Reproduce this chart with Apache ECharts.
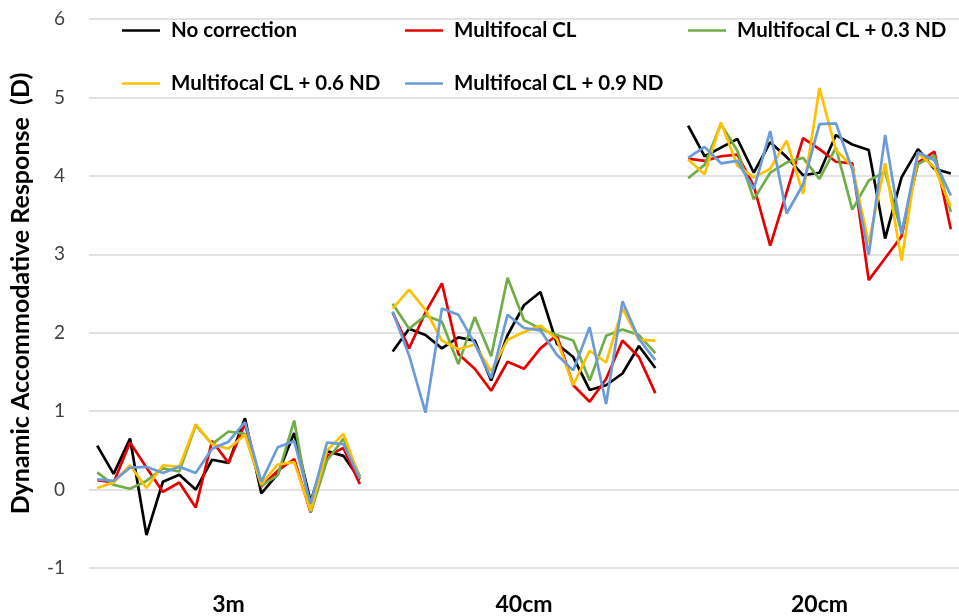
<!DOCTYPE html>
<html>
<head>
<meta charset="utf-8">
<script src="https://cdn.jsdelivr.net/npm/echarts@6/dist/echarts.min.js"></script>
<style>html,body{margin:0;padding:0;background:#fff}#c{width:959px;height:616px}</style>
</head>
<body>
<div id="c"></div>
<script>
// ---- data ----
const groupLabels = ['3m', '40cm', '20cm'];
const seriesNames = ['No correction', 'Multifocal CL', 'Multifocal CL + 0.3 ND', 'Multifocal CL + 0.6 ND', 'Multifocal CL + 0.9 ND'];

const noCorrection3m  = [0.56, 0.20, 0.65, -0.58, 0.10, 0.19, 0.00, 0.38, 0.34, 0.91, -0.05, 0.20, 0.72, -0.15, 0.49, 0.43, 0.13];
const noCorrection40  = [1.76, 2.05, 1.97, 1.80, 1.94, 1.90, 1.39, 1.97, 2.35, 2.52, 1.86, 1.69, 1.27, 1.33, 1.48, 1.83, 1.55];
const noCorrection20  = [4.64, 4.25, 4.36, 4.47, 4.04, 4.43, 4.24, 4.01, 4.04, 4.52, 4.40, 4.33, 3.20, 3.98, 4.34, 4.09, 4.03];

const multifocal3m    = [0.12, 0.09, 0.60, 0.28, -0.03, 0.09, -0.23, 0.62, 0.34, 0.84, 0.04, 0.24, 0.39, -0.29, 0.43, 0.53, 0.07];
const multifocal40    = [2.26, 1.80, 2.26, 2.63, 1.73, 1.54, 1.26, 1.63, 1.54, 1.80, 1.97, 1.33, 1.12, 1.41, 1.90, 1.69, 1.23];
const multifocal20    = [4.22, 4.19, 4.25, 4.27, 3.87, 3.11, 3.79, 4.48, 4.34, 4.18, 4.16, 2.67, 2.95, 3.23, 4.17, 4.31, 3.32];

const nd03_3m         = [0.22, 0.06, 0.01, 0.11, 0.27, 0.23, 0.82, 0.58, 0.74, 0.71, 0.05, 0.18, 0.88, -0.29, 0.37, 0.65, 0.17];
const nd03_40         = [2.37, 2.05, 2.22, 2.14, 1.60, 2.20, 1.70, 2.70, 2.16, 2.05, 1.97, 1.90, 1.39, 1.96, 2.04, 1.97, 1.74];
const nd03_20         = [3.97, 4.14, 4.66, 4.32, 3.70, 4.04, 4.17, 4.23, 3.96, 4.36, 3.57, 3.94, 4.05, 3.28, 4.15, 4.26, 3.54];

const nd06_3m         = [0.02, 0.09, 0.31, 0.02, 0.31, 0.29, 0.83, 0.58, 0.52, 0.70, 0.07, 0.32, 0.35, -0.27, 0.50, 0.71, 0.14];
const nd06_40         = [2.31, 2.55, 2.29, 1.90, 1.79, 1.85, 1.51, 1.91, 2.01, 2.09, 1.92, 1.33, 1.77, 1.62, 2.31, 1.91, 1.90];
const nd06_20         = [4.21, 4.02, 4.68, 4.13, 3.98, 4.09, 4.45, 3.77, 5.12, 4.33, 4.12, 3.14, 4.16, 2.92, 4.29, 4.11, 3.61];

const nd09_3m         = [0.13, 0.11, 0.28, 0.29, 0.21, 0.29, 0.21, 0.52, 0.61, 0.86, 0.10, 0.54, 0.62, -0.18, 0.60, 0.58, 0.14];
const nd09_40         = [2.27, 1.71, 0.98, 2.31, 2.23, 1.86, 1.42, 2.23, 2.06, 2.03, 1.72, 1.52, 2.07, 1.09, 2.40, 1.92, 1.65];
const nd09_20         = [4.23, 4.37, 4.16, 4.19, 3.83, 4.57, 3.52, 3.89, 4.66, 4.67, 4.08, 2.99, 4.52, 3.26, 4.30, 4.20, 3.75];

const yTicks = { min: -1, max: 6, interval: 1 };

// ---- build ----
const groups = [
  [noCorrection3m, noCorrection40, noCorrection20],
  [multifocal3m, multifocal40, multifocal20],
  [nd03_3m, nd03_40, nd03_20],
  [nd06_3m, nd06_40, nd06_20],
  [nd09_3m, nd09_40, nd09_20]
];
const perGroup = noCorrection3m.length;
const categories = [];
const labelAt = {};
groupLabels.forEach((g, gi) => {
  for (let i = 0; i < perGroup; i++) {
    const idx = categories.length;
    categories.push(g + '_' + i);
    if (i === Math.floor(perGroup / 2)) labelAt[idx] = g;
  }
  if (gi < groupLabels.length - 1) { labelAt[categories.length] = ''; categories.push('gap' + gi); }
});
function joinGroups(arrs) {
  const out = [];
  arrs.forEach((a, i) => { out.push(...a); if (i < arrs.length - 1) out.push(null); });
  return out;
}
const colors = ['#000000', '#e60000', '#70ad47', '#ffc000', '#6b9bd8'];
const FONT = 'Lato';

const legendPos = [
  { left: 122, top: 20 }, { left: 405, top: 20 }, { left: 688, top: 20 },
  { left: 122, top: 73 }, { left: 405, top: 73 }
];

const chart = echarts.init(document.getElementById('c'), null, { renderer: 'canvas' });
chart.setOption({
  animation: false,
  backgroundColor: '#ffffff',
  color: colors,
  legend: seriesNames.map((n, i) => ({
    data: [n], left: legendPos[i].left, top: legendPos[i].top,
    icon: 'rect', itemWidth: 38, itemHeight: 2.5, padding: 0,
    textStyle: { fontFamily: FONT, fontWeight: 'bold', fontSize: 20.5, color: '#000', padding: [0, 0, 0, 6] }
  })),
  grid: { left: 82, top: 19, width: 883, height: 550, containLabel: false },
  xAxis: {
    type: 'category',
    data: categories,
    boundaryGap: true,
    axisLine: { show: false },
    axisTick: { show: false },
    axisLabel: {
      interval: 0, margin: 25,
      formatter: (v, idx) => labelAt[idx] || '',
      fontFamily: FONT, fontWeight: 'bold', fontSize: 23, color: '#000'
    },
    splitLine: { show: false }
  },
  yAxis: {
    type: 'value', min: yTicks.min, max: yTicks.max, interval: yTicks.interval,
    name: 'Dynamic Accommodative Response  (D)',
    nameLocation: 'middle', nameGap: 56, nameRotate: 90,
    nameTextStyle: { fontFamily: FONT, fontWeight: 'bold', fontSize: 25, color: '#000' },
    axisLine: { show: false }, axisTick: { show: false },
    axisLabel: { fontFamily: FONT, fontSize: 19, color: '#404040', margin: 24 },
    splitLine: { lineStyle: { color: '#d9d9d9', width: 1.5 } }
  },
  series: seriesNames.map((n, i) => ({
    name: n, type: 'line', data: joinGroups(groups[i]),
    symbol: 'none', showSymbol: false, connectNulls: false,
    lineStyle: { width: 2.7, color: colors[i] }, itemStyle: { color: colors[i] }
  }))
});
</script>
</body>
</html>
